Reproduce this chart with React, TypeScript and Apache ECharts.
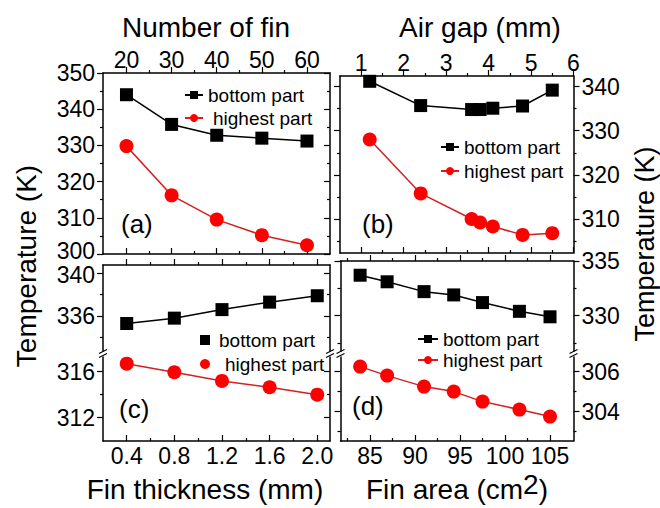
import React, { useEffect, useRef } from 'react';
import * as echarts from 'echarts';

// ---------- data ----------
const finNumber = [20, 30, 40, 50, 60];
const finNumberBottom = [344.0, 335.8, 332.8, 332.0, 331.2];
const finNumberHighest = [329.8, 316.2, 309.5, 305.2, 302.4];

const airGap = [1.2, 2.4, 3.6, 3.8, 4.1, 4.8, 5.5];
const airGapBottom = [341.2, 335.7, 334.8, 334.8, 335.1, 335.6, 339.2];
const airGapHighest = [328.0, 315.8, 310.0, 309.2, 308.3, 306.4, 306.8];

const finThickness = [0.4, 0.8, 1.2, 1.6, 2.0];
const thicknessBottom = [335.3, 335.8, 336.6, 337.3, 337.9];
const thicknessHighest = [316.7, 315.95, 315.2, 314.65, 314.0];

const finArea = [83.9, 86.9, 91.0, 94.3, 97.5, 101.6, 105.0];
const areaBottom = [333.7, 333.1, 332.2, 331.9, 331.2, 330.4, 329.9];
const areaHighest = [306.25, 305.8, 305.25, 305.0, 304.5, 304.1, 303.75];

// ---------- tick labels ----------
const finNumberTicks = [20, 30, 40, 50, 60];
const finNumberMinor = [25, 35, 45, 55];
const airGapTicks = [1, 2, 3, 4, 5, 6];
const airGapMinor = [1.5, 2.5, 3.5, 4.5, 5.5];
const thicknessTicks = [0.4, 0.8, 1.2, 1.6, 2.0];
const thicknessMinor = [0.6, 1.0, 1.4, 1.8];
const areaTicks = [85, 90, 95, 100, 105];
const areaMinor = [82.5, 87.5, 92.5, 97.5, 102.5];

const tempTicksA = [300, 310, 320, 330, 340, 350];
const tempMinorA = [305, 315, 325, 335, 345];
const tempTicksB = [310, 320, 330, 340];
const tempMinorB = [305, 315, 325, 335];
const tempTicksCUpper = [336, 340];
const tempMinorCUpper = [334, 338];
const tempTicksCLower = [312, 316];
const tempMinorCLower = [314];
const tempTicksDUpper = [330, 335];
const tempMinorDUpper = [327.5, 332.5];
const tempTicksDLower = [304, 306];
const tempMinorDLower = [303, 305];

const FONT = "'Liberation Sans', Arial, Helvetica, sans-serif";

const zip = (xs: number[], ys: number[]) => xs.map((x, i) => [x, ys[i]]);

export default function App() {
  const ref = useRef<HTMLDivElement>(null);

  useEffect(() => {
    if (!ref.current) return;
    const chart = echarts.init(ref.current, undefined, { renderer: 'svg' });

    const xAxes: any[] = [];
    const yAxes: any[] = [];
    const labelRich = {
      up: { fontSize: 23, fontFamily: FONT, color: '#000', lineHeight: 17, padding: [0, 0, 6, 0] },
      dn: { fontSize: 23, fontFamily: FONT, color: '#000', lineHeight: 17, padding: [3, 0, 0, 0] },
    };
    const addAxis = (
      dim: 'x' | 'y',
      grid: number,
      position: string,
      min: number,
      max: number,
      major: number[],
      minor: number[],
      showLabels: boolean,
      inside: boolean,
      fmt?: (v: number) => string
    ): number => {
      const list = dim === 'x' ? xAxes : yAxes;
      const base = { type: 'value', gridIndex: grid, position, min, max, splitLine: { show: false } };
      const idx = list.length;
      list.push({
        ...base,
        axisLine: { show: true, onZero: false, lineStyle: { color: '#000', width: 1.5 } },
        axisTick: { show: true, inside, length: 6, customValues: major, lineStyle: { color: '#000', width: 1.2 } },
        axisLabel: {
          show: showLabels,
          customValues: major,
          margin: dim === 'x' ? (position === 'top' ? 5 : 6) : 8,
          fontSize: 23,
          lineHeight: 17,
          color: '#000',
          fontFamily: FONT,
          rich: labelRich,
          formatter: fmt ? (v: number) => fmt(v) : (v: number) => String(v),
        },
      });
      if (minor.length) {
        list.push({
          ...base,
          axisLine: { show: false, onZero: false },
          axisTick: { show: true, inside, length: 3, customValues: minor, lineStyle: { color: '#000', width: 1.2 } },
          axisLabel: { show: false },
        });
      }
      return idx;
    };

    // grids
    const grids = [
      { left: 103, top: 73, width: 227, height: 181 }, // a
      { left: 340, top: 76, width: 233.5, height: 177 }, // b
      { left: 103, top: 265, width: 227, height: 89 }, // c upper
      { left: 103, top: 354, width: 227, height: 87 }, // c lower
      { left: 340.5, top: 261, width: 233, height: 93 }, // d upper
      { left: 340.5, top: 354, width: 233, height: 87 }, // d lower
    ];

    // label nudges for the tightly packed labels where panels meet
    const fmtA = (v: number) => (v === 300 ? `{up|${v}}` : String(v));
    const fmtCU = (v: number) => (v === 340 ? `{dn|${v}}` : String(v));

    // panel a
    const aX = addAxis('x', 0, 'top', 14.8, 65.1, finNumberTicks, finNumberMinor, true, false);
    addAxis('x', 0, 'bottom', 14.8, 65.1, finNumberTicks, finNumberMinor, false, true);
    const aY = addAxis('y', 0, 'left', 300, 350, tempTicksA, tempMinorA, true, false, fmtA);
    addAxis('y', 0, 'right', 300, 350, tempTicksA, tempMinorA, false, true);
    // panel b
    const bX = addAxis('x', 1, 'top', 0.5, 6.0, airGapTicks, airGapMinor, true, false);
    addAxis('x', 1, 'bottom', 0.5, 6.0, airGapTicks, airGapMinor, false, true);
    addAxis('y', 1, 'left', 302.3, 342.4, tempTicksB, tempMinorB, false, false);
    const bY = addAxis('y', 1, 'right', 302.3, 342.4, tempTicksB, tempMinorB, true, false);
    // panel c
    const fmt1 = (v: number) => v.toFixed(1);
    const cXU = addAxis('x', 2, 'top', 0.201, 2.107, thicknessTicks, thicknessMinor, false, false);
    const cYU = addAxis('y', 2, 'left', 332.44, 340.78, tempTicksCUpper, tempMinorCUpper, true, false, fmtCU);
    addAxis('y', 2, 'right', 332.44, 340.78, tempTicksCUpper, tempMinorCUpper, false, true);
    const cXL = addAxis('x', 3, 'bottom', 0.201, 2.107, thicknessTicks, thicknessMinor, true, true, fmt1);
    const cYL = addAxis('y', 3, 'left', 309.97, 317.54, tempTicksCLower, tempMinorCLower, true, false);
    addAxis('y', 3, 'right', 309.97, 317.54, tempTicksCLower, tempMinorCLower, false, true);
    // panel d
    const dXU = addAxis('x', 4, 'top', 81.72, 107.61, areaTicks, areaMinor, false, false);
    addAxis('y', 4, 'left', 326.5, 335, tempTicksDUpper, tempMinorDUpper, false, false);
    const dYU = addAxis('y', 4, 'right', 326.5, 335, tempTicksDUpper, tempMinorDUpper, true, false);
    const dXL = addAxis('x', 5, 'bottom', 81.72, 107.61, areaTicks, areaMinor, true, true);
    addAxis('y', 5, 'left', 302.53, 306.88, tempTicksDLower, tempMinorDLower, false, false);
    const dYL = addAxis('y', 5, 'right', 302.53, 306.88, tempTicksDLower, tempMinorDLower, true, false);

    const black = (name: string, xi: number, yi: number, data: number[][]) => ({
      type: 'line', name, xAxisIndex: xi, yAxisIndex: yi, data,
      symbol: 'rect', symbolSize: 13,
      itemStyle: { color: '#000' },
      lineStyle: { color: '#000', width: 1.5 },
    });
    const red = (name: string, xi: number, yi: number, data: number[][]) => ({
      type: 'line', name, xAxisIndex: xi, yAxisIndex: yi, data,
      symbol: 'circle', symbolSize: 14,
      itemStyle: { color: '#ff0000' },
      lineStyle: { color: '#d42020', width: 1.5 },
    });

    const series = [
      black('bottom part#a', aX, aY, zip(finNumber, finNumberBottom)),
      red('highest part#a', aX, aY, zip(finNumber, finNumberHighest)),
      black('bottom part#b', bX, bY, zip(airGap, airGapBottom)),
      red('highest part#b', bX, bY, zip(airGap, airGapHighest)),
      black('bottom part#c', cXU, cYU, zip(finThickness, thicknessBottom)),
      red('highest part#c', cXL, cYL, zip(finThickness, thicknessHighest)),
      black('bottom part#d', dXU, dYU, zip(finArea, areaBottom)),
      red('highest part#d', dXL, dYL, zip(finArea, areaHighest)),
    ];

    const legendBase = {
      orient: 'vertical',
      padding: 0,
      itemGap: 3,
      itemWidth: 18,
      itemHeight: 10,
      selectedMode: false,
      formatter: (n: string) => n.split('#')[0],
      textStyle: { fontSize: 19, fontFamily: FONT, color: '#000', lineHeight: 20 },
    };
    const legends = [
      { ...legendBase, left: 184, top: 85, data: ['bottom part#a', { name: 'highest part#a', textStyle: { padding: [0, 0, 0, 5] } }] },
      { ...legendBase, left: 440, top: 137, itemGap: 4, data: ['bottom part#b', 'highest part#b'] },
      {
        ...legendBase, left: 200, top: 330, itemGap: 4, itemWidth: 10, itemHeight: 10,
        data: [
          { name: 'bottom part#c', icon: 'rect', textStyle: { padding: [0, 0, 0, 4] } },
          { name: 'highest part#c', icon: 'circle', textStyle: { padding: [0, 0, 0, 10] } },
        ],
      },
      { ...legendBase, left: 417, top: 329, itemGap: 1, itemWidth: 20, data: ['bottom part#d', 'highest part#d'] },
    ];

    const title = (text: string, x: number, y: number, rotation = 0, size = 28, rich?: any) => ({
      type: 'text', x, y, rotation, z: 100,
      style: { text, fontSize: size, fontFamily: FONT, fill: '#000', align: 'center', verticalAlign: 'middle', rich },
    });
    const panelLabel = (text: string, x: number, y: number) => ({
      type: 'text', x, y, z: 100,
      style: { text, fontSize: 26, fontFamily: FONT, fill: '#000', align: 'left', verticalAlign: 'middle' },
    });
    const breakMark = (x: number, y: number) => ({
      type: 'group', x, y, z: 100,
      children: [
        { type: 'rect', shape: { x: -5, y: -2.5, width: 10, height: 5 }, style: { fill: '#fff' }, z: 100 },
        { type: 'line', shape: { x1: -4, y1: -0.5, x2: 4, y2: -4.5 }, style: { stroke: '#000', lineWidth: 1.2 }, z: 101 },
        { type: 'line', shape: { x1: -4, y1: 3.5, x2: 4, y2: -0.5 }, style: { stroke: '#000', lineWidth: 1.2 }, z: 101 },
      ],
    });

    const graphic = [
      title('Number of fin', 206, 27),
      title('Air gap (mm)', 480, 27),
      title('Fin thickness (mm)', 205, 489),
      title('Fin area (cm{s|2})', 457, 489, 0, 28, { s: { fontSize: 28, fontFamily: FONT, padding: [0, 0, 10, 0] } }),
      title('Temperature (K)', 26, 266, Math.PI / 2, 28),
      title('Temperature (K)', 645, 244, Math.PI / 2, 27),
      panelLabel('(a)', 121, 224),
      panelLabel('(b)', 362, 224),
      panelLabel('(c)', 119, 409),
      panelLabel('(d)', 352, 406),
      breakMark(103, 354),
      breakMark(330, 354),
      breakMark(340.5, 354),
      breakMark(573.5, 354),
    ];

    chart.setOption({
      animation: false,
      backgroundColor: '#fff',
      grid: grids,
      xAxis: xAxes,
      yAxis: yAxes,
      legend: legends,
      series,
      graphic,
    });

    return () => chart.dispose();
  }, []);

  return <div ref={ref} style={{ position: 'fixed', left: 0, top: 0, width: 660, height: 508 }} />;
}
